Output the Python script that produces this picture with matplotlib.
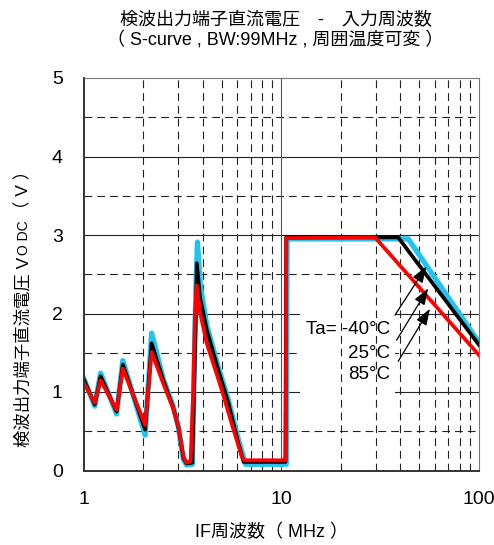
import matplotlib
matplotlib.use("Agg")
import matplotlib.pyplot as plt
from matplotlib.patches import Rectangle

plt.rcParams['font.family'] = ['Liberation Sans', 'Noto Sans CJK JP']

W, H, DPI = 494, 545, 100

# IF frequency (MHz) and detector output DC voltage (V) per ambient temperature
freq_m40 = [1.0, 1.14, 1.22, 1.47, 1.58, 2.05, 2.21, 2.53, 2.84, 3.02, 3.20, 3.32, 3.55,
            3.70, 3.77, 3.90, 4.20, 4.80, 5.40, 6.06, 6.60, 10.6, 10.7, 43.9, 100.0]
volt_m40 = [1.18, 0.82, 1.24, 0.72, 1.40, 0.45, 1.75, 1.17, 0.82, 0.55, 0.14, 0.07, 0.08,
            2.30, 2.91, 2.35, 1.85, 1.32, 0.90, 0.40, 0.08, 0.08, 2.95, 2.95, 1.63]

freq_25 = [1.0, 1.14, 1.22, 1.47, 1.58, 2.05, 2.21, 2.53, 2.84, 3.02, 3.20, 3.32, 3.55,
           3.70, 3.74, 3.88, 4.20, 4.80, 5.40, 6.06, 6.45, 10.5, 10.6, 39.0, 100.0]
volt_25 = [1.17, 0.84, 1.20, 0.75, 1.35, 0.52, 1.62, 1.15, 0.80, 0.55, 0.16, 0.09, 0.10,
           2.00, 2.64, 2.21, 1.79, 1.28, 0.86, 0.35, 0.11, 0.11, 2.97, 2.97, 1.60]

freq_85 = [1.0, 1.14, 1.22, 1.47, 1.58, 2.05, 2.21, 2.53, 2.84, 3.02, 3.20, 3.32, 3.48,
           3.59, 3.66, 3.74, 3.88, 4.20, 5.00, 5.61, 6.31, 6.50, 10.3, 10.45, 10.56, 10.6,
           29.8, 100.0]
volt_85 = [1.13, 0.86, 1.15, 0.77, 1.30, 0.58, 1.51, 1.11, 0.79, 0.56, 0.18, 0.10, 0.12,
           1.03, 2.00, 2.36, 2.02, 1.62, 1.03, 0.60, 0.18, 0.13, 0.13, 0.15, 0.13, 2.96,
           2.97, 1.47]

temp_labels = ["Ta= -40°C", "25°C", "85°C"]
label_pos = [(35.4, 1.80), (35.4, 1.49), (35.4, 1.22)]
arrow_tail = [(37.6, 1.98), (38.3, 1.66), (39.0, 1.39)]
arrow_head = [(54.3, 2.60), (55.3, 2.32), (56.5, 2.06)]

x_ticks = [1, 10, 100]
x_ticklabels = ["1", "10", "100"]
y_ticks = [0, 1, 2, 3, 4, 5]

title_1 = "検波出力端子直流電圧　-　入力周波数"
title_2 = "（ S-curve , BW:99MHz , 周囲温度可変 ）"
xlabel = "IF周波数（ MHz ）"
ylabel_parts = [("検波出力端子直流電圧 V", 12.5), ("O DC", 10), ("（ V ）", 12.5)]

fig = plt.figure(figsize=(W / DPI, H / DPI), dpi=DPI)
fig.patch.set_facecolor("white")


def px2fig(x, y):
    return x / W, 1 - y / H


ax = fig.add_axes([83.5 / W, (H - 470.5) / H, (479 - 83.5) / W, (470.5 - 78) / H])
ax.set_xscale("log")
ax.set_xlim(1, 100)
ax.set_ylim(0, 5)

# grid
dash = (0, (7.0, 4.5))
for v in [1, 2, 3, 4]:
    ax.axhline(v, color="#222222", lw=0.8, zorder=1)
for v in [0.5, 1.5, 2.5, 3.5, 4.5]:
    ax.axhline(v, color="#222222", lw=0.8, ls=dash, zorder=1)
minor_x = [m * d for d in (1, 10) for m in range(2, 10)]
for v in minor_x:
    ax.axvline(v, color="#222222", lw=0.8, ls=dash, zorder=3)
ax.axvline(10, color="#555555", lw=0.8, zorder=3)

# blank area behind the temperature labels
ax.add_patch(Rectangle((12.4, 0.95), 37.6 - 12.4, 2.05 - 0.95, facecolor="white",
                       edgecolor="none", zorder=2))

ax.plot(freq_m40, volt_m40, color="#21C4EE", lw=3.8, zorder=5, solid_joinstyle="round")
ax.plot(freq_25, volt_25, color="black", lw=2.7, zorder=6, solid_joinstyle="round")
ax.plot(freq_85, volt_85, color="#FF0000", lw=2.7, zorder=7, solid_joinstyle="round")

for (lx, ly), s in zip(label_pos, temp_labels):
    ax.text(lx, ly, s, ha="right", va="center", fontsize=13.5, zorder=8)
for t, h in zip(arrow_tail, arrow_head):
    ax.annotate("", xy=h, xytext=t,
                arrowprops=dict(arrowstyle="-|>,head_length=1.0,head_width=0.35",
                                color="black", lw=0.9, shrinkA=0, shrinkB=0),
                zorder=9)

ax.set_xticks(x_ticks)
ax.set_xticklabels(x_ticklabels)
ax.xaxis.set_minor_locator(matplotlib.ticker.NullLocator())
ax.set_yticks(y_ticks)
ax.tick_params(axis="both", length=0, labelsize=14)
ax.tick_params(axis="x", pad=15)
ax.tick_params(axis="y", pad=15)

for side in ("left", "bottom"):
    ax.spines[side].set_color("#333333")
    ax.spines[side].set_linewidth(1.4)
for side in ("top", "right"):
    ax.spines[side].set_color("#777777")
    ax.spines[side].set_linewidth(0.8)
ax.spines[:].set_zorder(10)

fig.text(*px2fig(276, 20), title_1, ha="center", va="center", fontsize=13)
fig.text(*px2fig(275, 39.5), title_2, ha="center", va="center", fontsize=13)
fig.text(*px2fig(271, 532), xlabel, ha="center", va="center", fontsize=13)

# y label built from pieces so the "O DC" part can be set smaller
renderer = fig.canvas.get_renderer()
base_x = 28.0
y_cur = 447.0
for s, fs in ylabel_parts:
    t = fig.text(*px2fig(base_x, y_cur), s, rotation=90, rotation_mode="anchor",
                 ha="left", va="baseline", fontsize=fs)
    bb = t.get_window_extent(renderer)
    y_cur = H - bb.y1 - 2.0

fig.savefig("out.png", dpi=DPI, facecolor="white")
